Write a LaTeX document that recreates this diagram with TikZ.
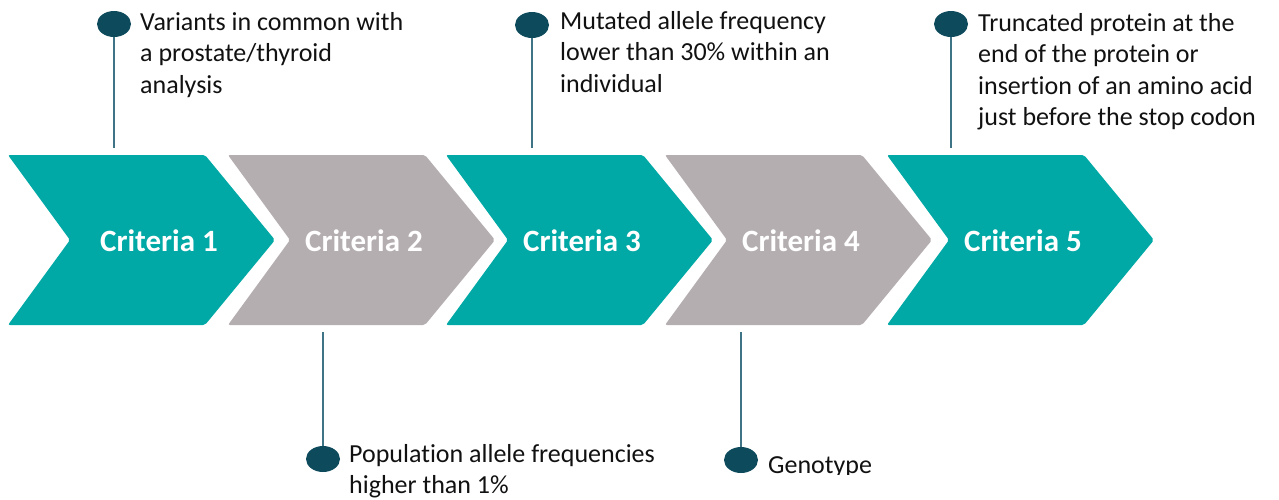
\documentclass[tikz,border=0pt]{standalone}
\usepackage{fontspec}
\setmainfont[Ligatures=NoCommon]{Carlito}
\usetikzlibrary{shapes.geometric}
\definecolor{tealA}{HTML}{00A9A5}
\definecolor{grayA}{HTML}{B5AEB0}
\definecolor{dotA}{HTML}{0C4A5C}
\definecolor{stemA}{HTML}{3F7487}
\definecolor{txtA}{HTML}{111111}
\newcommand{\mylines}[1]{\vtop{\let\\\par\hsize=20cm\parindent=0pt\leftskip=0pt\rightskip=0pt plus 1fil #1}}
\begin{document}
\begin{tikzpicture}[x=1pt,y=-1pt,
  dotnode/.style={ellipse, fill=dotA, minimum width=34pt, minimum height=26pt, inner sep=0pt},
  stem/.style={draw=stemA, line width=1.6pt},
  callout/.style={font=\fontsize{26}{31.5}\selectfont, text=txtA, inner sep=0pt, anchor=base west},
  crit/.style={font=\fontsize{31}{37}\selectfont\bfseries, text=white, inner sep=0pt, anchor=base},
  chev/.style={rounded corners=2pt}]
\useasboundingbox (0,0) rectangle (1279,499);
% chevrons
\foreach \L/\c in {8/tealA, 228/grayA, 446/tealA, 665/grayA, 887/tealA} {
  \fill[\c, chev] (\L,155) -- (\L+197,155) -- (\L+267,240) -- (\L+197,325) -- (\L,325) -- (\L+62,240) -- cycle;
}
\node[crit] (c1) at (159,251) {Criteria 1};
\node[crit] (c2) at (364,251) {Criteria 2};
\node[crit] (c3) at (582,251) {Criteria 3};
\node[crit] (c4) at (801,251) {Criteria 4};
\node[crit] (c5) at (1023,251) {Criteria 5};
% stem end points
\coordinate (e1) at (114,148);
\coordinate (e2) at (323,332);
\coordinate (e3) at (532,148);
\coordinate (e4) at (741,332);
\coordinate (e5) at (951,148);
% dots
\node[dotnode] (d1) at (114,24) {};
\node[dotnode] (d2) at (323,459) {};
\node[dotnode] (d3) at (532,25) {};
\node[dotnode] (d4) at (741,460) {};
\node[dotnode] (d5) at (951,24) {};
% stems
\draw[stem] (d1.south) -- (e1);
\draw[stem] (d3.south) -- (e3);
\draw[stem] (d5.south) -- (e5);
\draw[stem] (d2.north) -- (e2);
\draw[stem] (d4.north) -- (e4);
% texts
\node[callout] (t1) at (140,30) {\mylines{Variants in common with\\a prostate/thyroid\\analysis}};
\node[callout] (t3) at (560,29) {\mylines{Mutated allele frequency\\lower than 30\% within an\\individual}};
\node[callout] (t5) at (978,31) {\mylines{Truncated protein at the\\end of the protein or\\insertion of an amino acid\\just before the stop codon}};
\node[callout] (t2) at (349,462) {\mylines{Population allele frequencies\\higher than 1\%}};
\begin{scope}
  \clip (760,440) rectangle (900,474);
  \node[callout] (t4) at (768,473) {Genotype};
\end{scope}
\end{tikzpicture}
\end{document}
